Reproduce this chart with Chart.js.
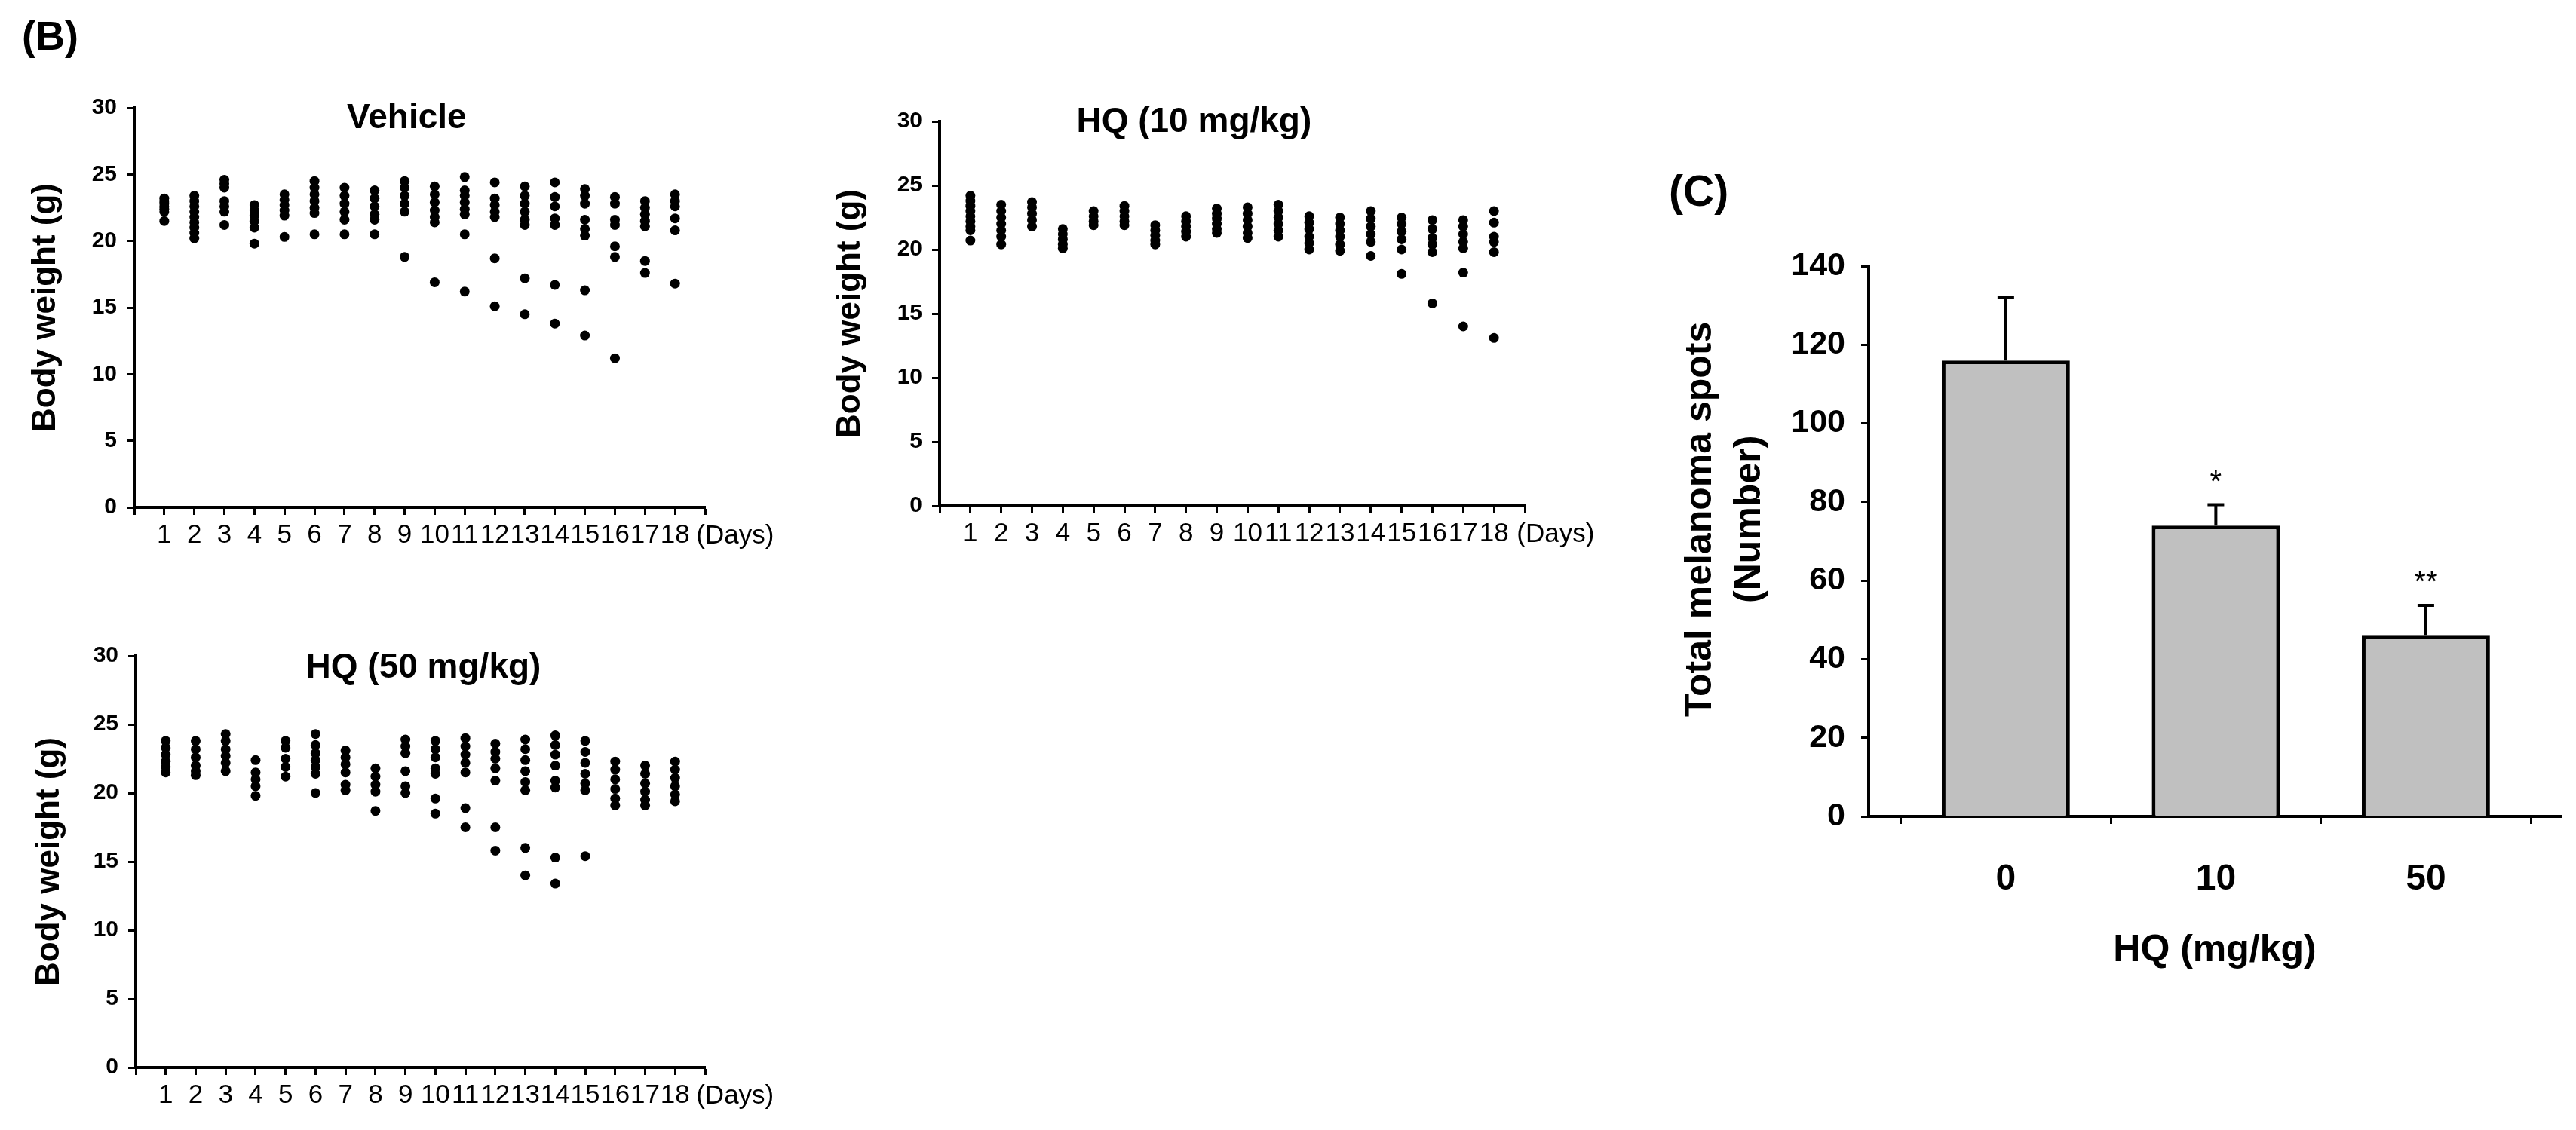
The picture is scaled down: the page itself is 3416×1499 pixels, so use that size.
<!DOCTYPE html>
<html lang="en">
<head>
<meta charset="UTF-8">
<title>Body weight and melanoma spots</title>
<script src="https://cdn.jsdelivr.net/npm/chart.js"></script>
<style>
  body { margin: 0; background: #fff; width: 3416px; height: 1499px; position: relative; overflow: hidden;
         font-family: 'Liberation Sans', Arial, sans-serif; }
  canvas { position: absolute; }
  .panel { position: absolute; font-weight: bold; line-height: 1; color: #000; }
</style>
</head>
<body>
<div class="panel" style="left:29px; top:20px; font-size:54px;">(B)</div>
<div class="panel" style="left:2213px; top:225px; font-size:57px;">(C)</div>
<canvas id="vehicleChart" width="1060" height="650" style="left:0px; top:100px;"></canvas>
<canvas id="hq10Chart" width="1060" height="650" style="left:1060px; top:100px;"></canvas>
<canvas id="hq50Chart" width="1060" height="679" style="left:0px; top:820px;"></canvas>
<canvas id="spotsChart" width="1266" height="1110" style="left:2150px; top:240px;"></canvas>
<script>
    // body weight per mouse, one list per day
    const days = [1, 2, 3, 4, 5, 6, 7, 8, 9, 10, 11, 12, 13, 14, 15, 16, 17, 18];

    const vehicleWeights = [
        [23.2, 23.0, 22.8, 22.6, 22.4, 22.2, 21.5],
        [23.4, 23.0, 22.6, 22.2, 21.8, 21.4, 21.0, 20.6, 20.2],
        [24.6, 24.3, 24.0, 23.0, 22.6, 22.2, 21.2],
        [22.7, 22.3, 21.9, 21.5, 21.0, 19.8],
        [23.5, 23.1, 22.7, 22.3, 21.9, 20.3],
        [24.5, 24.0, 23.5, 23.0, 22.5, 22.1, 20.5],
        [24.0, 23.4, 22.8, 22.2, 21.6, 20.5],
        [23.8, 23.2, 22.6, 22.0, 21.6, 20.5],
        [24.5, 24.0, 23.4, 22.8, 22.2, 18.8],
        [24.1, 23.5, 22.9, 22.3, 21.8, 21.4, 16.9],
        [24.8, 23.8, 23.4, 22.9, 22.4, 22.0, 20.5, 16.2],
        [24.4, 23.2, 22.7, 22.2, 21.8, 18.7, 15.1],
        [24.1, 23.4, 22.8, 22.2, 21.6, 21.2, 17.2, 14.5],
        [24.4, 23.3, 22.6, 21.7, 21.2, 16.7, 13.8],
        [23.9, 23.4, 22.8, 21.6, 20.9, 20.4, 16.3, 12.9],
        [23.3, 22.8, 21.6, 21.2, 19.6, 18.8, 11.2],
        [23.0, 22.5, 22.0, 21.5, 21.1, 18.5, 17.6],
        [23.5, 23.0, 22.6, 21.7, 20.8, 16.8]
    ];

    const hq10Weights = [
        [24.2, 23.8, 23.4, 23.0, 22.6, 22.2, 21.8, 21.5, 20.7],
        [23.5, 23.0, 22.5, 22.0, 21.5, 21.0, 20.4],
        [23.7, 23.3, 22.8, 22.3, 21.8],
        [21.6, 21.2, 20.8, 20.4, 20.1],
        [23.0, 22.6, 22.2, 21.9],
        [23.4, 23.0, 22.6, 22.2, 21.9],
        [21.9, 21.5, 21.1, 20.7, 20.4],
        [22.6, 22.2, 21.8, 21.4, 21.0],
        [23.2, 22.8, 22.4, 22.0, 21.6, 21.3],
        [23.3, 22.8, 22.3, 21.8, 21.3, 20.9],
        [23.5, 23.0, 22.5, 22.0, 21.5, 21.0],
        [22.6, 22.1, 21.6, 21.0, 20.5, 20.0],
        [22.5, 22.0, 21.5, 21.0, 20.4, 19.9],
        [23.0, 22.4, 21.8, 21.2, 20.6, 19.5],
        [22.5, 22.0, 21.4, 20.8, 20.0, 18.1],
        [22.3, 21.6, 20.9, 20.4, 19.8, 15.8],
        [22.3, 21.8, 21.2, 20.6, 20.1, 18.2, 14.0],
        [23.0, 22.1, 21.0, 20.6, 19.8, 13.1]
    ];

    const hq50Weights = [
        [23.8, 23.3, 22.8, 22.3, 21.9, 21.5],
        [23.8, 23.2, 22.6, 22.0, 21.6, 21.3],
        [24.3, 23.8, 23.2, 22.7, 22.2, 21.6],
        [22.4, 21.5, 21.0, 20.5, 19.8],
        [23.8, 23.3, 22.5, 21.9, 21.2],
        [24.3, 23.5, 22.9, 22.4, 21.9, 21.4, 20.0],
        [23.1, 22.6, 22.1, 21.5, 20.6, 20.2],
        [21.8, 21.2, 20.6, 20.1, 18.7],
        [23.9, 23.4, 22.9, 21.6, 20.5, 20.0],
        [23.8, 23.2, 22.6, 21.8, 21.4, 19.6, 18.5],
        [24.0, 23.4, 22.8, 22.2, 21.5, 18.9, 17.5],
        [23.6, 23.0, 22.5, 21.8, 20.9, 17.5, 15.8],
        [23.9, 23.2, 22.4, 21.6, 20.8, 20.2, 16.0, 14.0],
        [24.2, 23.5, 22.8, 22.0, 20.9, 20.4, 15.3, 13.4],
        [23.8, 23.0, 22.2, 21.4, 20.7, 20.2, 15.4],
        [22.3, 21.7, 21.0, 20.3, 19.6, 19.1],
        [22.0, 21.4, 20.7, 20.1, 19.5, 19.1],
        [22.3, 21.7, 21.1, 20.5, 19.9, 19.4]
    ];

    // melanoma spots per dose
    const doseLabels = ['0', '10', '50'];
    const spotMeans = [116, 74, 46];
    const spotErrors = [16, 5.3, 7.7];
    const spotStars = ['', '*', '**'];

    const FONT = "'Liberation Sans', Arial, sans-serif";
    Chart.defaults.font.family = FONT;
    Chart.defaults.color = '#000';

    function toPoints(weights) {
        return weights.flatMap((list, i) => list.map(w => ({ x: days[i], y: w })));
    }

    // extra texts, error bars and stars drawn through the chart's own scales
    const extrasPlugin = {
        id: 'extras',
        afterDraw(chart, args, opts) {
            const ctx = chart.ctx;
            const xs = chart.scales.x, ys = chart.scales.y;
            const area = chart.chartArea;

            if (opts.errors) {
                ctx.save();
                ctx.strokeStyle = '#000';
                ctx.lineWidth = 4;
                opts.means.forEach((m, i) => {
                    const px = xs.getPixelForValue(i);
                    const y0 = ys.getPixelForValue(m);
                    const y1 = ys.getPixelForValue(m + opts.errors[i]);
                    ctx.beginPath();
                    ctx.moveTo(px, y0);
                    ctx.lineTo(px, y1);
                    ctx.moveTo(px - 11, y1);
                    ctx.lineTo(px + 11, y1);
                    ctx.stroke();
                    if (opts.stars[i]) {
                        ctx.fillStyle = '#000';
                        ctx.font = '40px ' + FONT;
                        ctx.textAlign = 'center';
                        ctx.textBaseline = 'alphabetic';
                        ctx.fillText(opts.stars[i], px, y1 - 18);
                    }
                });
                ctx.restore();
            }

            (opts.labels || []).forEach(l => {
                ctx.save();
                ctx.fillStyle = '#000';
                ctx.font = l.font;
                ctx.textAlign = 'center';
                ctx.textBaseline = 'middle';
                const px = l.dx !== undefined ? area.left + l.dx : xs.getPixelForValue(l.x);
                const py = l.dy !== undefined ? area.bottom + l.dy : ys.getPixelForValue(l.y);
                ctx.translate(px, py);
                if (l.rotate) ctx.rotate(-Math.PI / 2);
                ctx.fillText(l.text, 0, 0);
                ctx.restore();
            });
        }
    };

    function weightChart(id, weights, title, titleX, titleY, pad, yWidth) {
        return new Chart(document.getElementById(id), {
            type: 'scatter',
            data: {
                datasets: [{
                    data: toPoints(weights),
                    pointRadius: 6.5,
                    pointBackgroundColor: '#000',
                    pointBorderWidth: 0,
                    pointStyle: 'circle'
                }]
            },
            options: {
                responsive: false,
                animation: false,
                devicePixelRatio: 1,
                layout: { padding: pad },
                plugins: {
                    legend: { display: false },
                    tooltip: { enabled: false },
                    extras: {
                        labels: [
                            { text: title, x: titleX, y: titleY, font: 'bold 46px ' + FONT },
                            { text: '(Days)', x: 20.0, dy: 38, font: '35px ' + FONT }
                        ]
                    }
                },
                scales: {
                    x: {
                        type: 'linear',
                        min: 0,
                        max: 19,
                        afterFit: s => { s.height = 60; },
                        ticks: {
                            stepSize: 1,
                            maxTicksLimit: 30,
                            autoSkip: false,
                            maxRotation: 0,
                            padding: 10,
                            font: { size: 35, lineHeight: 1 },
                            callback: v => (v >= 1 && v <= 18) ? String(v) : ''
                        },
                        grid: { drawOnChartArea: false, tickLength: 10, tickWidth: 3, tickColor: '#000' },
                        border: { color: '#000', width: 4 }
                    },
                    y: {
                        min: 0,
                        max: 30,
                        afterFit: s => { s.width = yWidth; },
                        ticks: { stepSize: 5, padding: 13, font: { size: 30, weight: 'bold', lineHeight: 1 } },
                        grid: { drawOnChartArea: false, tickLength: 10, tickWidth: 3, tickColor: '#000' },
                        border: { color: '#000', width: 4 },
                        title: {
                            display: true,
                            text: 'Body weight (g)',
                            padding: 0,
                            font: { size: 44, weight: 'bold', lineHeight: 1 }
                        }
                    }
                }
            },
            plugins: [extrasPlugin]
        });
    }

    weightChart('vehicleChart', vehicleWeights, 'Vehicle', 9.07, 29.2,
        { left: 39, top: 43, right: 125, bottom: 17 }, 139);
    weightChart('hq10Chart', hq10Weights, 'HQ (10 mg/kg)', 8.26, 29.9,
        { left: 46, top: 61, right: 98, bottom: 19 }, 140);
    weightChart('hq50Chart', hq50Weights, 'HQ (50 mg/kg)', 9.6, 29.1,
        { left: 44, top: 50, right: 125, bottom: 23 }, 136);

    new Chart(document.getElementById('spotsChart'), {
        type: 'bar',
        data: {
            datasets: [{
                data: spotMeans.map((v, i) => ({ x: i, y: v })),
                backgroundColor: '#c0c0c0',
                borderColor: '#000',
                borderWidth: 5,
                barPercentage: 0.61,
                categoryPercentage: 1
            }]
        },
        options: {
            responsive: false,
            animation: false,
            devicePixelRatio: 1,
            layout: { padding: { left: 208, top: 113, right: 20, bottom: 64 } },
            plugins: {
                legend: { display: false },
                tooltip: { enabled: false },
                extras: {
                    means: spotMeans,
                    errors: spotErrors,
                    stars: spotStars,
                    labels: [
                        { text: 'Total melanoma spots', dx: -223, y: 75.6, rotate: true, font: 'bold 50px ' + FONT },
                        { text: '(Number)', dx: -158, y: 75.6, rotate: true, font: 'bold 50px ' + FONT }
                    ]
                }
            },
            scales: {
                x: {
                    type: 'linear',
                    min: -0.653,
                    max: 2.643,
                    offset: false,
                    afterBuildTicks: s => { s.ticks = doseLabels.map((d, i) => ({ value: i })); },
                    afterFit: s => { s.height = 203; },
                    ticks: {
                        autoSkip: false,
                        maxRotation: 0,
                        padding: 50,
                        font: { size: 48, weight: 'bold', lineHeight: 1 },
                        callback: v => doseLabels[v]
                    },
                    grid: { drawOnChartArea: false, tickLength: 10, tickWidth: 3, tickColor: '#000' },
                    border: { color: '#000', width: 4 },
                    title: {
                        display: true,
                        text: 'HQ (mg/kg)',
                        padding: 0,
                        font: { size: 50, weight: 'bold', lineHeight: 1 }
                    }
                },
                y: {
                    min: 0,
                    max: 140,
                    afterFit: s => { s.width = 120; },
                    ticks: { stepSize: 20, padding: 21, font: { size: 43, weight: 'bold', lineHeight: 1 } },
                    grid: { drawOnChartArea: false, tickLength: 10, tickWidth: 3, tickColor: '#000' },
                    border: { color: '#000', width: 4 }
                }
            }
        },
        plugins: [extrasPlugin]
    });
</script>
</body>
</html>
